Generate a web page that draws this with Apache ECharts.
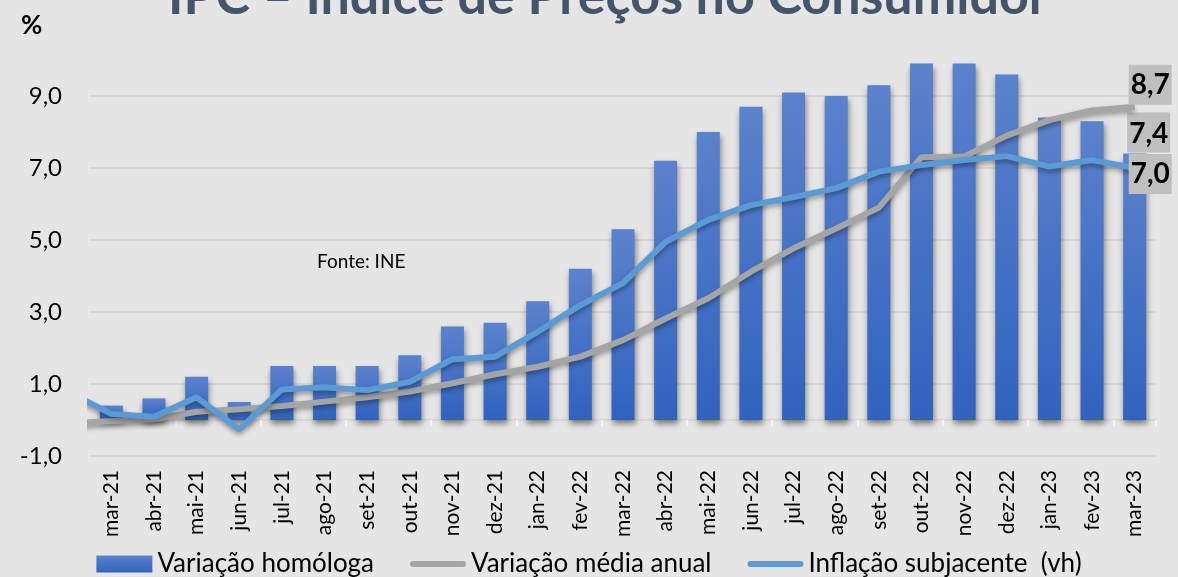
<!DOCTYPE html>
<html>
<head>
<meta charset="utf-8">
<title>IPC</title>
<style>
  html, body { margin: 0; width: 100%; height: 100%; background: #e5e5e5; overflow: hidden; }
  #chart { width: 1178px; height: 577px; }
</style>
</head>
<body>
<div id="chart"></div>
<script src="https://cdn.jsdelivr.net/npm/echarts@6/dist/echarts.min.js"></script>
<script>
// meses do eixo
const months = ['mar-21','abr-21','mai-21','jun-21','jul-21','ago-21','set-21','out-21','nov-21','dez-21',
  'jan-22','fev-22','mar-22','abr-22','mai-22','jun-22','jul-22','ago-22','set-22','out-22','nov-22','dez-22',
  'jan-23','fev-23','mar-23'];
// barras
const homologa = [0.4,0.6,1.2,0.5,1.5,1.5,1.5,1.8,2.6,2.7,3.3,4.2,5.3,7.2,8.0,8.7,9.1,9.0,9.3,9.9,9.9,9.6,8.4,8.3,7.4];
// linhas: começam em fev-21 (mês anterior ao 1º visível, cortado pela área do gráfico)
const mediaAnual = [-0.1,-0.03,0.02,0.23,0.3,0.39,0.51,0.63,0.79,1.02,1.27,1.48,1.76,2.22,2.82,3.38,4.12,4.77,5.32,5.9,7.3,7.32,7.9,8.33,8.6,8.7];
const subjacente = [0.77,0.17,0.09,0.63,-0.26,0.85,0.91,0.83,1.06,1.69,1.76,2.45,3.19,3.8,4.95,5.56,5.97,6.19,6.44,6.9,7.08,7.22,7.33,7.04,7.22,7.0];
const yTicks = [-1, 1, 3, 5, 7, 9];

const FONT = 'Lato, "Open Sans", sans-serif';
const fmt = v => v.toFixed(1).replace('.', ',');
const last = months.length - 1;
const lineIcon = 'path://M3,0 L55,0 A3,3 0 0 1 55,6 L3,6 A3,3 0 0 1 3,0 Z';

const boxLabel = {
  backgroundColor: '#bfbfbf', color: '#000', fontFamily: FONT,
  fontWeight: 'bold', fontSize: 28, lineHeight: 32, padding: [5, 2, 3, 2]
};

const barColor = new echarts.graphic.LinearGradient(0, 0, 0, 1, [
  { offset: 0, color: '#5b82cc' }, { offset: 1, color: '#3062bf' }
]);

const myChart = echarts.init(document.getElementById('chart'));
myChart.setOption({
  backgroundColor: '#e5e5e5',
  animation: false,
  textStyle: { fontFamily: FONT },
  grid: { left: 90, right: 22, top: 60, bottom: 121 },
  graphic: [
    { type: 'text', left: 168, top: -29,
      style: { text: 'IPC – Índice de Preços no Consumidor', fill: '#44546a',
        font: 'bold 52px ' + FONT } },
    { type: 'text', left: 21, top: 13,
      style: { text: '%', fill: '#000', font: 'bold 26px ' + FONT } },
    { type: 'text', left: 317, top: 252,
      style: { text: 'Fonte: INE', fill: '#000', font: '19px ' + FONT } }
  ],
  legend: {
    bottom: -5, left: 'center', itemWidth: 56, itemHeight: 17, itemGap: 36,
    textStyle: { fontSize: 26, color: '#000', fontFamily: FONT },
    data: [
      { name: 'Variação homóloga', icon: 'rect' },
      { name: 'Variação média anual', icon: lineIcon },
      { name: 'Inflação subjacente  (vh)', icon: lineIcon }
    ]
  },
  xAxis: [
    { type: 'category', data: months, position: 'bottom',
      axisLine: { onZero: true, lineStyle: { color: '#d6d6d6', width: 2 } },
      axisTick: { show: true, length: 6, lineStyle: { color: '#f4f4f4', width: 2 } },
      axisLabel: { show: false } },
    { type: 'category', data: months, position: 'bottom',
      axisLine: { show: false, onZero: false }, axisTick: { show: false },
      axisLabel: { rotate: 90, fontSize: 21, color: '#000', margin: 14, fontFamily: FONT } },
    { type: 'value', min: -0.5, max: last + 0.5, position: 'top', show: false }
  ],
  yAxis: {
    type: 'value', min: -1, max: 10, interval: 2,
    axisLine: { show: false }, axisTick: { show: false },
    axisLabel: { fontSize: 24, color: '#000', margin: 28, fontFamily: FONT, showMaxLabel: false,
      formatter: v => yTicks.includes(v) ? fmt(v) : '' },
    splitLine: { showMaxLine: false, lineStyle: { color: '#d6d6d6', width: 2 } }
  },
  series: [
    { name: 'Variação homóloga', type: 'bar', xAxisIndex: 0, barWidth: 23,
      itemStyle: { color: barColor, shadowBlur: 6, shadowOffsetY: 4, shadowOffsetX: 1,
        shadowColor: 'rgba(0,0,0,0.45)' },
      data: homologa.map((v, i) => i === last
        ? { value: v, label: Object.assign({ show: true, position: 'top', distance: 1, offset: [14, 0],
            formatter: p => fmt(p.value) }, boxLabel) }
        : v) },
    { name: 'Variação média anual', type: 'line', xAxisIndex: 2, symbol: 'none', z: 3,
      lineStyle: { color: '#a5a5a5', width: 6, shadowBlur: 5, shadowOffsetY: 3, shadowColor: 'rgba(0,0,0,0.35)' },
      itemStyle: { color: '#a5a5a5' },
      endLabel: Object.assign({ show: true, distance: 0, offset: [-6, -22],
        formatter: p => fmt(p.value[1]) }, boxLabel),
      data: mediaAnual.map((v, i) => [i - 1, v]) },
    { name: 'Inflação subjacente  (vh)', type: 'line', xAxisIndex: 2, symbol: 'none', z: 4,
      lineStyle: { color: '#5b9bd5', width: 6, shadowBlur: 5, shadowOffsetY: 3, shadowColor: 'rgba(0,0,0,0.35)' },
      itemStyle: { color: '#5b9bd5' },
      endLabel: Object.assign({ show: true, distance: 0, offset: [-6, 6],
        formatter: p => fmt(p.value[1]) }, boxLabel),
      data: subjacente.map((v, i) => [i - 1, v]) }
  ]
});
</script>
</body>
</html>
